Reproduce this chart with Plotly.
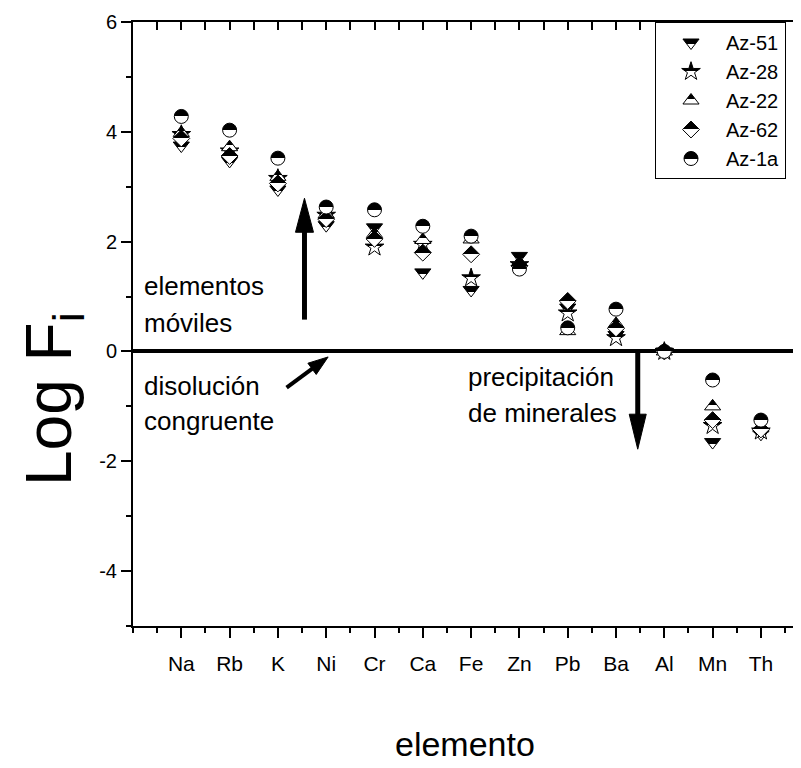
import math
import plotly.graph_objects as go

# ---------------- data ----------------
elements = ['Na', 'Rb', 'K', 'Ni', 'Cr', 'Ca', 'Fe', 'Zn', 'Pb', 'Ba', 'Al', 'Mn', 'Th']
az51 = [3.75, 3.47, 2.95, 2.30, 2.26, 1.44, 1.12, 1.74, 0.80, 0.30, 0.0, -1.65, -1.50]
az28 = [3.95, 3.65, 3.15, 2.48, 1.90, 1.95, 1.34, 1.58, 0.70, 0.25, 0.0, -1.35, -1.45]
az22 = [3.98, 3.72, 3.18, 2.50, 2.14, 2.03, 2.04, 1.62, 0.37, 0.50, 0.0, -1.00, -1.40]
az62 = [3.88, 3.56, 3.06, 2.41, 2.05, 1.80, 1.77, 1.56, 0.92, 0.42, 0.0, -1.25, -1.42]
az1a = [4.28, 4.03, 3.52, 2.63, 2.58, 2.28, 2.10, 1.50, 0.43, 0.77, 0.0, -0.52, -1.25]

series_names = ['Az-51', 'Az-28', 'Az-22', 'Az-62', 'Az-1a']
series_values = [az51, az28, az22, az62, az1a]
series_symbols = ['triangle-down', 'star', 'triangle-up', 'diamond', 'circle']

y_tick_vals = [-4, -2, 0, 2, 4, 6]
y_tick_text = ['-4', '-2', '0', '2', '4', '6']

# ---------------- layout geometry ----------------
# the page body adds an 8px margin, so the figure is sized to fit the window
PAD = 8
W, H = 801 - PAD, 768 - PAD
ML, MR, MT, MB = 125, 0, 14, 142
PW, PH = W - ML - MR, H - MT - MB
X_RANGE = [0, 13.83]
Y_RANGE = [-5, 6]
XS = PW / (X_RANGE[1] - X_RANGE[0])   # px per x unit
YS = PH / (Y_RANGE[1] - Y_RANGE[0])   # px per y unit

FONT = 'Liberation Sans, Arial, sans-serif'

xs = list(range(1, len(elements) + 1))

fig = go.Figure()
for name, vals, sym in zip(series_names, series_values, series_symbols):
    fig.add_trace(go.Scatter(
        x=xs, y=vals, mode='markers', name=name,
        marker=dict(symbol=sym, size=14 if sym != 'diamond' else 13,
                    color='black',
                    gradient=dict(type='vertical', color='white'),
                    line=dict(color='black', width=1)),
        hoverinfo='skip'))

# dummy trace to bring mirrored axes (top/right) to life
fig.add_trace(go.Scatter(x=[None], y=[None], xaxis='x2', yaxis='y2',
                         showlegend=False, hoverinfo='skip'))

# ---------------- arrows (shapes) ----------------
shapes = []


def add_arrow(x0, y0, x1, y1, shaft_w, head_len, head_w):
    px0, py0 = x0 * XS, y0 * YS
    px1, py1 = x1 * XS, y1 * YS
    L = math.hypot(px1 - px0, py1 - py0)
    ux, uy = (px1 - px0) / L, (py1 - py0) / L
    bx, by = px1 - ux * head_len, py1 - uy * head_len
    nx, ny = -uy, ux
    pA = ((bx + nx * head_w / 2) / XS, (by + ny * head_w / 2) / YS)
    pB = ((bx - nx * head_w / 2) / XS, (by - ny * head_w / 2) / YS)
    shapes.append(dict(type='line', xref='x', yref='y', x0=x0, y0=y0,
                       x1=(bx + ux * 2) / XS, y1=(by + uy * 2) / YS,
                       line=dict(color='black', width=shaft_w)))
    shapes.append(dict(type='path', xref='x', yref='y',
                       path=f'M{x1},{y1} L{pA[0]},{pA[1]} L{pB[0]},{pB[1]} Z',
                       fillcolor='black', line=dict(color='black', width=1)))


add_arrow(3.55, 0.58, 3.55, 2.79, 5, 34, 18)
add_arrow(10.45, 0.0, 10.45, -1.78, 5, 35, 17)
add_arrow(3.18, -0.66, 4.04, -0.10, 4, 20, 14)

# ---------------- text annotations ----------------
annotations = []
text_items = [
    ('elementos', 0.19, 1.20),
    ('móviles', 0.19, 0.52),
    ('disolución', 0.19, -0.62),
    ('congruente', 0.19, -1.27),
    ('precipitación', 6.9, -0.46),
    ('de minerales', 6.9, -1.12),
]
for t, x, y in text_items:
    annotations.append(dict(text=t, x=x, y=y, xref='x', yref='y', xanchor='left',
                            yanchor='middle', showarrow=False,
                            font=dict(family=FONT, size=26, color='black')))

annotations.append(dict(text='Log F<sub>i</sub>', x=(53 - PAD - ML) / PW,
                        y=(H - MB - (399 - PAD)) / PH, xref='paper', yref='paper',
                        textangle=-90, showarrow=False, xanchor='center', yanchor='middle',
                        font=dict(family=FONT, size=64, color='black')))
annotations.append(dict(text='elemento', x=(465 - PAD - ML) / PW,
                        y=(H - MB - (744 - PAD)) / PH, xref='paper', yref='paper',
                        showarrow=False, xanchor='center', yanchor='middle',
                        font=dict(family=FONT, size=34, color='black')))

minor_x = [i + 0.5 for i in range(0, 14)] + [0]
minor_y = [-5, -3, -1, 1, 3, 5]

fig.update_layout(
    width=W, height=H,
    margin=dict(l=ML, r=MR, t=MT, b=MB, autoexpand=False),
    paper_bgcolor='white', plot_bgcolor='white',
    font=dict(family=FONT, color='black'),
    showlegend=True,
    legend=dict(x=(655 - PAD - ML) / PW, y=1.0, xanchor='left', yanchor='top',
                bordercolor='black', borderwidth=1, bgcolor='white',
                font=dict(family=FONT, size=20, color='black'),
                itemwidth=60, tracegroupgap=0),
    xaxis=dict(range=X_RANGE, tickmode='array', tickvals=xs,
               ticktext=elements, ticks='outside', ticklen=10, tickwidth=2,
               tickcolor='black', showline=True, linewidth=2, linecolor='black',
               showgrid=False, zeroline=False,
               tickfont=dict(family=FONT, size=21, color='black'),
               ticklabelstandoff=8,
               minor=dict(tickmode='array', tickvals=minor_x, ticks='outside',
                          ticklen=5, tickwidth=2, tickcolor='black', showgrid=False)),
    yaxis=dict(range=Y_RANGE, tickmode='array', tickvals=y_tick_vals, ticktext=y_tick_text,
               ticks='outside', ticklen=10, tickwidth=2, tickcolor='black',
               showline=True, linewidth=2, linecolor='black', showgrid=False,
               zeroline=True, zerolinewidth=4, zerolinecolor='black',
               tickfont=dict(family=FONT, size=20, color='black'),
               minor=dict(tickmode='array', tickvals=minor_y, ticks='outside',
                          ticklen=5, tickwidth=2, tickcolor='black', showgrid=False)),
    xaxis2=dict(range=X_RANGE, overlaying='x', side='top', anchor='y2',
                tickmode='array', tickvals=xs, ticks='inside', ticklen=8,
                tickwidth=2, tickcolor='black', showticklabels=False,
                showline=True, linewidth=2, linecolor='black', showgrid=False,
                zeroline=False,
                minor=dict(tickmode='array', tickvals=minor_x, ticks='inside',
                           ticklen=8, tickwidth=2, tickcolor='black', showgrid=False)),
    yaxis2=dict(range=Y_RANGE, overlaying='y', side='right', anchor='x2',
                tickmode='array', tickvals=y_tick_vals, ticks='inside', ticklen=8,
                tickwidth=2, tickcolor='black', showticklabels=False,
                showline=True, linewidth=2, linecolor='black', showgrid=False,
                zeroline=False,
                minor=dict(tickmode='array', tickvals=minor_y, ticks='inside',
                           ticklen=5, tickwidth=2, tickcolor='black', showgrid=False)),
    shapes=shapes,
    annotations=annotations,
)

# turn the smooth vertical gradient into a sharp half/half fill
post_js = """
var ns = 'http://www.w3.org/2000/svg';
document.querySelectorAll('linearGradient').forEach(function(g){
  var st = g.querySelectorAll('stop');
  if (st.length < 2) return;
  var ca = st[0].getAttribute('stop-color');
  var cb = st[st.length - 1].getAttribute('stop-color');
  while (g.firstChild) g.removeChild(g.firstChild);
  [[0, ca], [50, ca], [50, cb], [100, cb]].forEach(function(s){
    var e = document.createElementNS(ns, 'stop');
    e.setAttribute('offset', s[0] + '%');
    e.setAttribute('stop-color', s[1]);
    g.appendChild(e);
  });
});
"""

fig.write_html("out.html", post_script=post_js)
